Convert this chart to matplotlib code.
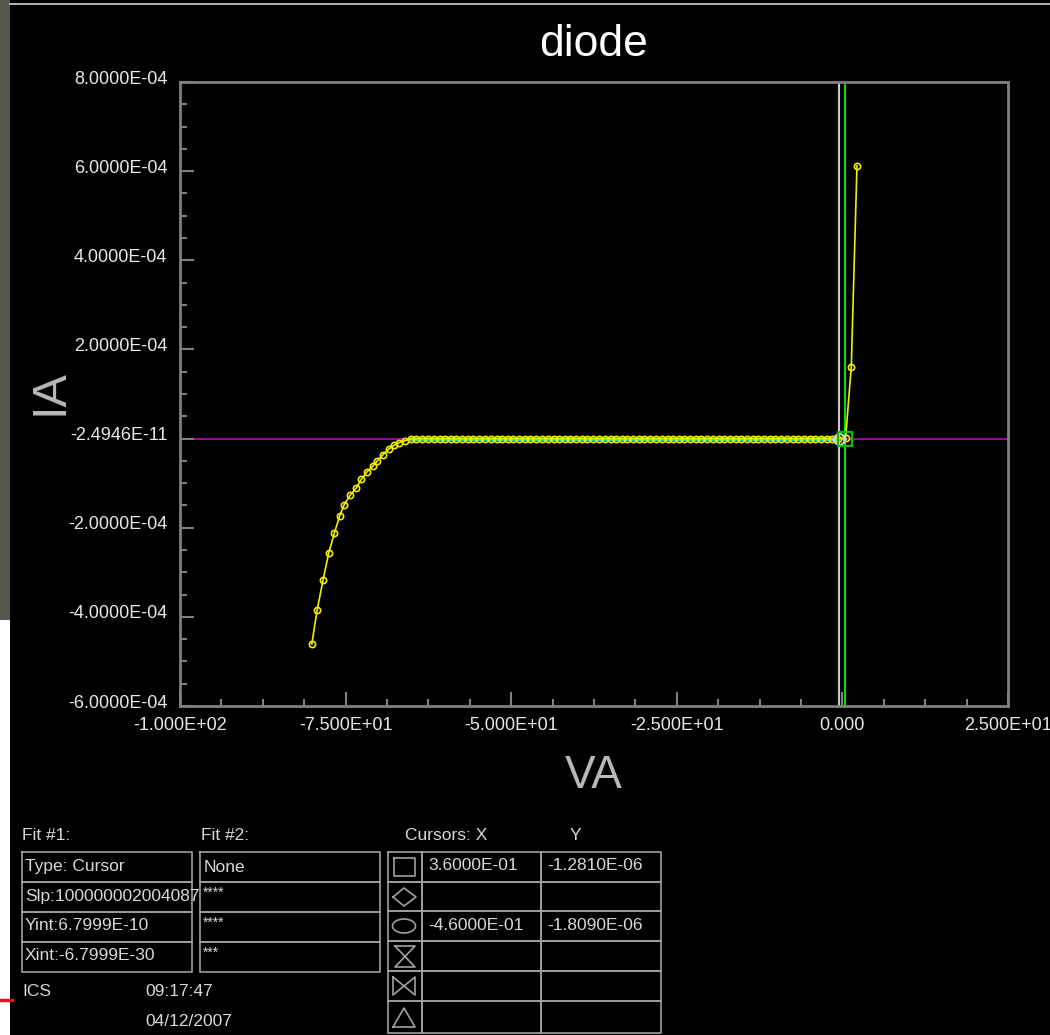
import matplotlib
matplotlib.use("Agg")
import matplotlib.pyplot as plt
import matplotlib.transforms as mtransforms
from matplotlib.lines import Line2D
from matplotlib.patches import Rectangle, Ellipse

plt.rcParams['font.family'] = ['Liberation Sans', 'DejaVu Sans']

W, H = 1050, 1035

# reverse breakdown branch (V, A)
va_rev = [-80.1, -79.3, -78.4, -77.55, -76.7, -75.9, -75.2, -74.3, -73.4,
          -72.6, -71.8, -70.9, -70.2, -69.35, -68.5, -67.7, -66.9, -66.0]
ia_rev = [-4.61e-4, -3.85e-4, -3.17e-4, -2.57e-4, -2.12e-4, -1.74e-4, -1.48e-4,
          -1.27e-4, -1.11e-4, -0.91e-4, -0.75e-4, -0.62e-4, -0.50e-4, -0.36e-4,
          -0.24e-4, -0.15e-4, -0.09e-4, -0.05e-4]
# flat (blocking) region, current ~0
va_flat = [-65.1, -64.3, -63.4, -62.6, -61.7, -60.8, -60.0, -59.1, -58.3, -57.4,
           -56.5, -55.7, -54.8, -54.0, -53.1, -52.2, -51.4, -50.5, -49.7, -48.8,
           -47.9, -47.1, -46.2, -45.4, -44.5, -43.6, -42.8, -41.9, -41.1, -40.2,
           -39.3, -38.5, -37.6, -36.8, -35.9, -35.0, -34.2, -33.3, -32.5, -31.6,
           -30.7, -29.9, -29.0, -28.2, -27.3, -26.4, -25.6, -24.7, -23.9, -23.0,
           -22.1, -21.3, -20.4, -19.6, -18.7, -17.8, -17.0, -16.1, -15.3, -14.4,
           -13.5, -12.7, -11.8, -11.0, -10.1, -9.2, -8.4, -7.5, -6.7, -5.8,
           -4.9, -4.1, -3.2, -2.4, -1.5, -0.6]
ia_flat = [0.0] * len(va_flat)
# forward branch
va_fwd = [0.48, 1.34, 2.2]
ia_fwd = [1.3e-6, 1.61e-4, 6.12e-4]

# cursors
cur_x = [0.36, -0.46]
cur_y = [-1.281e-6, -1.809e-6]

xticks = [-100, -75, -50, -25, 0, 25]
xticklabels = ['-1.000E+02', '-7.500E+01', '-5.000E+01', '-2.500E+01', '0.000', '2.500E+01']
yticks = [-6e-4, -4e-4, -2e-4, 0, 2e-4, 4e-4, 6e-4, 8e-4]
yticklabels = ['-6.0000E-04', '-4.0000E-04', '-2.0000E-04', '-2.4946E-11',
               '2.0000E-04', '4.0000E-04', '6.0000E-04', '8.0000E-04']


def px(x, y):
    return x / W, 1 - y / H


fig = plt.figure(figsize=(W / 100, H / 100), dpi=100, facecolor='black')

# left photo strip / screenshot edge
fig.add_artist(Rectangle(px(0, 620), 10 / W, 620 / H, transform=fig.transFigure,
                         facecolor='#55584f', edgecolor='none'))
fig.add_artist(Rectangle(px(0, 1035), 10 / W, 415 / H, transform=fig.transFigure,
                         facecolor='white', edgecolor='none'))
fig.add_artist(Line2D([0, 12 / W], [1 - 1000 / H] * 2, transform=fig.transFigure,
                      color='#e01020', lw=2.5))
fig.add_artist(Line2D([10 / W, 1], [1 - 4 / H] * 2, transform=fig.transFigure,
                      color='#d0d0d0', lw=1.2))

ax = fig.add_axes([180 / W, 1 - 706 / H, 828 / W, 624 / H])
ax.set_facecolor('black')
ax.set_xlim(-100, 25)
ax.set_ylim(-6e-4, 8e-4)

ax.axhline(0, color='#c000c0', lw=1.2, zorder=1)
ax.axvline(cur_x[1], color='#c8c8c8', lw=1.5, zorder=2)
ax.axvline(cur_x[0], color='#00e000', lw=1.5, zorder=2)

ax.plot(va_flat, ia_flat, color='#00d8d8', lw=2.5, zorder=3)
ax.plot(va_rev + va_flat + va_fwd, ia_rev + ia_flat + ia_fwd, color='#f0f000', lw=1.2,
        marker='o', ms=4.5, mfc='none', mec='#f0f000', mew=1.2, zorder=4)

ax.plot([cur_x[1]], [cur_y[1]], marker='o', ms=8, mfc='none', mec='#d0d0d0', mew=1.2, zorder=5)
ax.plot([cur_x[1]], [cur_y[1]], marker='D', ms=7, mfc='none', mec='#d0d0d0', mew=1.0, zorder=5)
ax.plot([cur_x[0]], [cur_y[0]], marker='s', ms=10, mfc='none', mec='#00c000', mew=1.5, zorder=5)

for s in ax.spines.values():
    s.set_color('#808080')
    s.set_linewidth(2)

ax.set_xticks(xticks)
ax.set_xticklabels(xticklabels)
ax.set_xticks([-100 + 6.25 * i for i in range(21)], minor=True)
ax.set_yticks(yticks)
ax.set_yticklabels(yticklabels)
ax.set_yticks([-6e-4 + 0.5e-4 * i for i in range(29)], minor=True)
ax.tick_params(which='both', direction='in', colors='#808080', labelcolor='#e8e8e8',
               labelsize=13, width=1.5)
ax.tick_params(which='major', length=10)
ax.tick_params(which='minor', length=5)
ax.tick_params(axis='x', pad=8)
ax.tick_params(axis='y', pad=9)

off = mtransforms.ScaledTranslation(0, 5 / 100, fig.dpi_scale_trans)
for lbl in ax.get_yticklabels():
    lbl.set_transform(lbl.get_transform() + off)

fig.text(*px(594, 44), 'diode', color='white', fontsize=32, ha='center', va='center')
fig.text(*px(50, 392), 'IA', color='#b8b8b8', fontsize=35, ha='center', va='center',
         rotation=90)
fig.text(*px(594, 776), 'VA', color='#b8b8b8', fontsize=33, ha='center', va='center')

# ---- info panel at bottom ----
gray = '#a0a0a0'
tcol = '#d8d8d8'


def line(xs, ys, **kw):
    fig.add_artist(Line2D([x / W for x in xs], [1 - y / H for y in ys],
                          transform=fig.transFigure, color=gray, lw=1.2, **kw))


def box(x0, y0, x1, y1):
    line([x0, x1, x1, x0, x0], [y0, y0, y1, y1, y0])


def txt(x, y, s, size=12.5):
    fig.text(*px(x, y), s, color=tcol, fontsize=size, ha='left', va='center')


txt(22, 836, 'Fit #1:')
txt(201, 836, 'Fit #2:')
rows = [852, 882, 912, 942, 972]
for y0, y1 in zip(rows[:-1], rows[1:]):
    box(22, y0, 192, y1)
    box(200, y0, 380, y1)
txt(25, 867, 'Type: Cursor')
txt(25, 896, 'Slp:100000002004087')
txt(25, 926, 'Yint:6.7999E-10')
txt(25, 956, 'Xint:-6.7999E-30')
txt(204, 867, 'None')
txt(203, 893, '****', 10)
txt(203, 923, '****', 10)
txt(203, 953, '***', 10)
txt(22, 991, 'ICS')
txt(145, 991, '09:17:47')
txt(145, 1021, '04/12/2007')

txt(405, 836, 'Cursors: X')
txt(570, 836, 'Y')
crow = [852, 882, 911, 941, 971, 1001, 1033]
for y0, y1 in zip(crow[:-1], crow[1:]):
    box(388, y0, 422, y1)
    box(422, y0, 541, y1)
    box(541, y0, 661, y1)
txt(428, 866, '3.6000E-01')
txt(547, 866, '-1.2810E-06')
txt(428, 926, '-4.6000E-01')
txt(547, 926, '-1.8090E-06')

# cursor symbols
box(394, 858, 415, 876)
line([393, 404, 416, 404, 393], [897, 888, 897, 906, 897])
fig.add_artist(Ellipse(px(404, 926), 23 / W, 14 / H, transform=fig.transFigure,
                       facecolor='none', edgecolor=gray, lw=1.2))
line([395, 415, 395, 415, 395], [946, 946, 967, 967, 946])
line([393, 393, 415, 415, 393], [977, 995, 977, 995, 977])
line([393, 404, 415, 393], [1027, 1008, 1027, 1027])

fig.savefig('out.png', dpi=100, facecolor='black')
